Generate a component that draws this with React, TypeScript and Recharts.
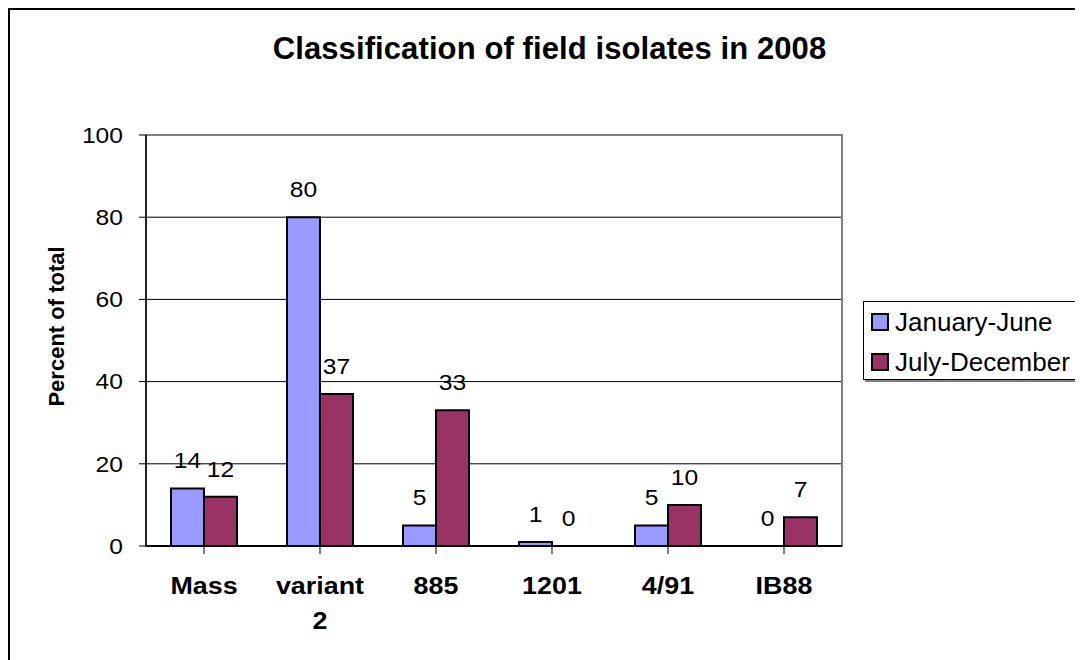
import React from 'react';
import { BarChart, Bar, XAxis, YAxis, CartesianGrid, LabelList, Legend, ReferenceArea, Rectangle } from 'recharts';

const categories = ['Mass', 'variant 2', '885', '1201', '4/91', 'IB88'];
const janJune = [14, 80, 5, 1, 5, 0];
const julDec = [12, 37, 33, 0, 10, 7];
const yTicks = [0, 20, 40, 60, 80, 100];
const seriesNames = ['January-June', 'July-December'];
const seriesColors = ['#9999FF', '#993366'];
const titleText = 'Classification of field isolates in 2008';
const yTitle = 'Percent of total';

const data = categories.map((c, i) => ({ name: c, jan: janJune[i], jul: julDec[i] }));

const FONT = '"Liberation Sans", Arial, Helvetica, sans-serif';
const STRETCH = 1.12;

const stretchAt = (x: number) => `translate(${x},0) scale(${STRETCH},1) translate(${-x},0)`;

const CategoryTick = (props: any) => {
  const { x, y, payload } = props;
  const lines = String(payload.value).split(' ');
  return (
    <text x={x} y={y} transform={stretchAt(x)} textAnchor="middle" fontFamily={FONT} fontSize={24} fontWeight="bold" fill="#000">
      {lines.map((l, i) => (
        <tspan key={i} x={x} dy={i === 0 ? '0.71em' : 35}>{l}</tspan>
      ))}
    </text>
  );
};

const ValueTick = (props: any) => {
  const { x, y, payload } = props;
  return (
    <text x={x} y={y} transform={stretchAt(x)} textAnchor="end" dy="0.355em" fontFamily={FONT} fontSize={22} fill="#000">
      {String(payload.value)}
    </text>
  );
};

const YTitle = (props: any) => {
  const vb = props.viewBox || {};
  const cx = 56;
  const cy = (vb.y || 0) + (vb.height || 0) / 2 - 14;
  return (
    <text x={cx} y={cy} transform={`rotate(-90, ${cx}, ${cy})`} textAnchor="middle" fontFamily={FONT} fontSize={22} fontWeight="bold" fill="#000">
      {yTitle}
    </text>
  );
};

const ValueLabel = (props: any) => {
  const { x, y, width, value } = props;
  const cx = Number(x) + Number(width) / 2;
  const by = Number(y) - 20;
  return (
    <text x={cx} y={by} transform={stretchAt(cx)} textAnchor="middle" fontFamily={FONT} fontSize={22} fill="#000">
      {String(value)}
    </text>
  );
};

const BarShape = (props: any) => {
  if (Number(props.value) === 0) return null;
  return <Rectangle {...props} />;
};

const zeroMin = (value: any) => (Number(value) === 0 ? 0.001 : 0);

const renderLegend = (props: any) => {
  const payload = props.payload || [];
  return (
    <div style={{ width: 219, height: 79, boxSizing: 'border-box', border: '1px solid #000', boxShadow: '2px 2px 0 #808080', background: '#fff', fontFamily: FONT, fontSize: 26, color: '#000', paddingTop: 0 }}>
      {payload.map((p: any, i: number) => (
        <div key={i} style={{ display: 'flex', alignItems: 'center', height: 40, paddingLeft: 7 }}>
          <span style={{ display: 'inline-block', width: 14, height: 14, background: seriesColors[i], border: '2px solid #000', marginRight: 6, flex: 'none' }} />
          <span style={{ lineHeight: '40px', whiteSpace: 'nowrap' }}>{p.value}</span>
        </div>
      ))}
    </div>
  );
};

export default function App() {
  return (
    <div style={{ position: 'relative', width: 1075, height: 652, background: '#fff' }}>
      <BarChart
        width={1075}
        height={652}
        data={data}
        margin={{ top: 127, right: 241, left: 0, bottom: 34 }}
        barGap={0}
        barSize={33}
      >
        <ReferenceArea y1={0} y2={100} fill="none" stroke="#808080" strokeWidth={2} ifOverflow="visible" />
        <CartesianGrid vertical={false} stroke="#000" strokeWidth={1} />
        <XAxis
          dataKey="name"
          height={80}
          axisLine={{ stroke: '#000', strokeWidth: 2 }}
          tickLine={{ stroke: '#000', strokeWidth: 1 }}
          tickSize={8}
          tickMargin={23}
          tick={<CategoryTick />}
          interval={0}
        />
        <YAxis
          width={138}
          domain={[0, 100]}
          ticks={yTicks}
          interval={0}
          axisLine={{ stroke: '#222', strokeWidth: 2 }}
          tickLine={{ stroke: '#000', strokeWidth: 1 }}
          tickSize={7}
          tickMargin={16}
          tick={<ValueTick />}
          label={<YTitle />}
        />
        <Legend
          layout="vertical"
          align="center"
          verticalAlign="middle"
          content={renderLegend}
          wrapperStyle={{ left: 855, top: 293, width: 219, height: 79 }}
        />
        <Bar dataKey="jan" name={seriesNames[0]} fill={seriesColors[0]} stroke="#000" strokeWidth={2} minPointSize={zeroMin} shape={<BarShape />} isAnimationActive={false}>
          <LabelList dataKey="jan" position="top" content={<ValueLabel />} />
        </Bar>
        <Bar dataKey="jul" name={seriesNames[1]} fill={seriesColors[1]} stroke="#000" strokeWidth={2} minPointSize={zeroMin} shape={<BarShape />} isAnimationActive={false}>
          <LabelList dataKey="jul" position="top" content={<ValueLabel />} />
        </Bar>
      </BarChart>
      <div style={{ position: 'absolute', left: 0, top: 26, width: 1083, textAlign: 'center', fontFamily: FONT, fontSize: 31, fontWeight: 'bold', lineHeight: '30px', color: '#000', pointerEvents: 'none', letterSpacing: '0.1px' }}>
        {titleText}
      </div>
      <div style={{ position: 'absolute', left: 0, top: 0, width: 1075, height: 652, boxSizing: 'border-box', borderLeft: '2px solid #000', borderTop: '2px solid #000', pointerEvents: 'none' }} />
    </div>
  );
}
